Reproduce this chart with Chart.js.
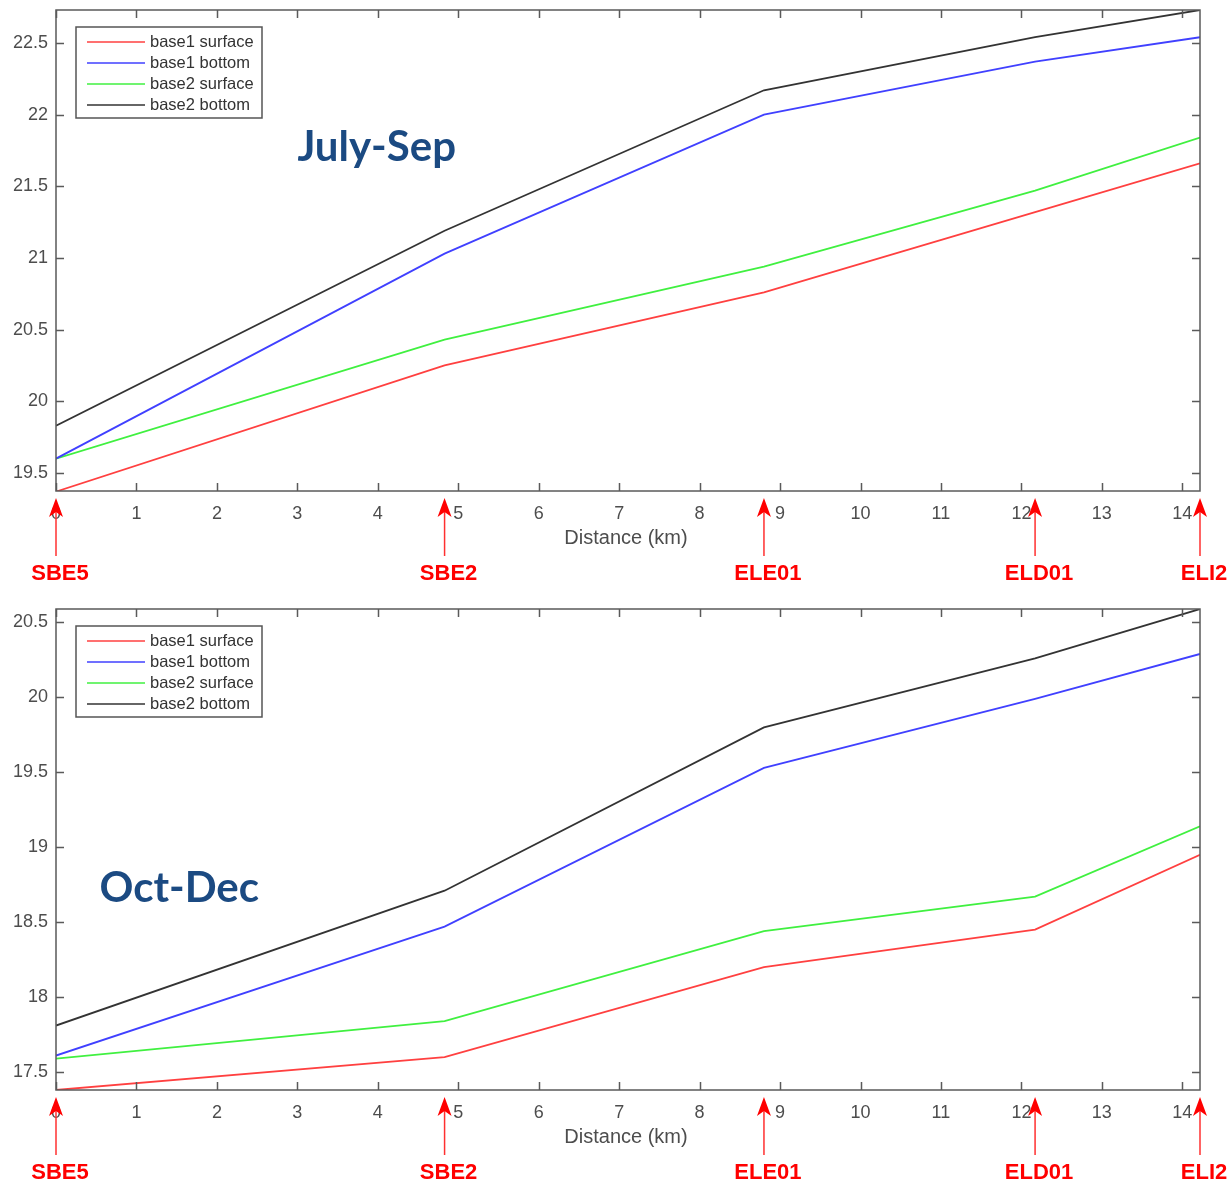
<!DOCTYPE html>
<html>
<head>
<meta charset="utf-8">
<script src="https://cdn.jsdelivr.net/npm/chart.js@4.4.1/dist/chart.umd.min.js"></script>
<style>
  html,body{margin:0;padding:0;background:#fff;}
  .wrap{position:relative;width:1228px;height:594px;}
  canvas{display:block;}
</style>
</head>
<body>
<div class="wrap"><canvas id="c1" width="1228" height="594"></canvas></div>
<div class="wrap"><canvas id="c2" width="1228" height="594"></canvas></div>
<script>
// ---- data ----
const seriesLabels = ['base1 surface','base1 bottom','base2 surface','base2 bottom'];
const stationNames = ['SBE5','SBE2','ELE01','ELD01','ELI2'];
const stationKm    = [0, 4.83, 8.8, 12.17, 14.22];
const xTickStep = 1;

// July-Sep
const julB1Surface = [19.37, 20.25, 20.76, 21.32, 21.66];
const julB1Bottom  = [19.60, 21.03, 22.00, 22.37, 22.54];
const julB2Surface = [19.60, 20.43, 20.94, 21.47, 21.84];
const julB2Bottom  = [19.83, 21.19, 22.17, 22.54, 22.73];
const julYRange = [19.374, 22.73];

// Oct-Dec
const octB1Surface = [17.38, 17.60, 18.20, 18.45, 18.95];
const octB1Bottom  = [17.61, 18.47, 19.53, 19.99, 20.29];
const octB2Surface = [17.59, 17.84, 18.44, 18.67, 19.14];
const octB2Bottom  = [17.81, 18.71, 19.80, 20.26, 20.59];
const octYRange = [17.38, 20.59];

const yTickStep = 0.5;
const colors = ['#ff4040','#4040ff','#40f040','#333333'];

function makeChart(id, title, titlePos, values, yRange, topPad){
  const canvas = document.getElementById(id);
  const TXT = '#4d4d4d';
  const FONT = '"Liberation Sans", Arial, sans-serif';
  const deco = {
    id:'deco',
    afterDraw(chart){
      const ctx = chart.ctx;
      const {left,right,top,bottom} = chart.chartArea;
      const x = chart.scales.x, y = chart.scales.y;
      ctx.save();
      // box
      ctx.strokeStyle='#5a5a5a'; ctx.lineWidth=1.5;
      ctx.strokeRect(left,top,right-left,bottom-top);
      // inward ticks on all four sides
      const tl=8;
      ctx.beginPath();
      x.ticks.forEach(t=>{
        const px=Math.round(x.getPixelForValue(t.value))+0.5;
        ctx.moveTo(px,bottom); ctx.lineTo(px,bottom-tl);
        ctx.moveTo(px,top); ctx.lineTo(px,top+tl);
      });
      y.ticks.forEach(t=>{
        const py=Math.round(y.getPixelForValue(t.value))+0.5;
        ctx.moveTo(left,py); ctx.lineTo(left+tl,py);
        ctx.moveTo(right,py); ctx.lineTo(right-tl,py);
      });
      ctx.stroke();

      // legend
      const lx=left+20, ly=top+17, lw=186, lh=91;
      ctx.fillStyle='#fff';
      ctx.fillRect(lx,ly,lw,lh);
      ctx.strokeStyle='#555'; ctx.lineWidth=1.5;
      ctx.strokeRect(lx,ly,lw,lh);
      ctx.font='16.5px '+FONT;
      ctx.textBaseline='middle'; ctx.textAlign='left';
      chart.data.datasets.forEach((ds,i)=>{
        const ry = ly+15+i*21;
        ctx.strokeStyle=ds.borderColor; ctx.lineWidth=1.5;
        ctx.beginPath(); ctx.moveTo(lx+11,ry); ctx.lineTo(lx+69,ry); ctx.stroke();
        ctx.fillStyle='#333';
        ctx.fillText(ds.label, lx+74, ry);
      });

      // x title
      ctx.fillStyle=TXT;
      ctx.font='20px '+FONT;
      ctx.textAlign='center'; ctx.textBaseline='middle';
      ctx.fillText('Distance (km)', (left+right)/2 - 2, bottom+47);

      // season title
      ctx.fillStyle='#1b4a82';
      ctx.font='bold 42px Lato, "Open Sans", sans-serif';
      ctx.textAlign='left'; ctx.textBaseline='alphabetic';
      ctx.fillText(title, left+titlePos[0]*(right-left), top+titlePos[1]*(bottom-top));

      // station arrows
      stationNames.forEach((name,i)=>{
        const px = x.getPixelForValue(stationKm[i]);
        const tip = bottom+7;
        ctx.strokeStyle='#ff3030'; ctx.lineWidth=1.5;
        ctx.beginPath(); ctx.moveTo(px,tip+10); ctx.lineTo(px,bottom+65); ctx.stroke();
        ctx.fillStyle='#ff0000';
        ctx.beginPath();
        ctx.moveTo(px,tip);
        ctx.lineTo(px+7,tip+19);
        ctx.lineTo(px,tip+14);
        ctx.lineTo(px-7,tip+19);
        ctx.closePath(); ctx.fill();
        ctx.font='bold 22px '+FONT;
        ctx.textAlign='center'; ctx.textBaseline='middle';
        ctx.fillText(name, px+4, bottom+83);
      });
      ctx.restore();
    }
  };

  const datasets = values.map((arr,i)=>({
    label: seriesLabels[i],
    data: arr.map((v,j)=>({x:stationKm[j], y:v})),
    borderColor: colors[i],
    backgroundColor: colors[i],
    borderWidth: 1.8,
    pointRadius: 0,
    tension: 0,
    fill:false
  }));

  const totalH = 594, areaH = 481;
  return new Chart(canvas, {
    type:'line',
    data:{datasets},
    options:{
      responsive:false,
      animation:false,
      events:[],
      layout:{padding:{top:topPad, right:28, left:0, bottom:0}},
      plugins:{legend:{display:false}, tooltip:{enabled:false}, title:{display:false}},
      scales:{
        x:{
          type:'linear', min:0, max:stationKm[stationKm.length-1],
          border:{display:false},
          grid:{display:false, drawTicks:false},
          ticks:{stepSize:xTickStep, includeBounds:false, padding:12, color:TXT,
                 font:{size:18, family:FONT}, maxRotation:0, autoSkip:false},
          afterFit(s){ s.height = totalH - topPad - areaH; s.paddingLeft=0; s.paddingRight=0; }
        },
        y:{
          min:yRange[0], max:yRange[1],
          border:{display:false},
          grid:{display:false, drawTicks:false},
          ticks:{stepSize:yTickStep, includeBounds:false, padding:8, color:TXT,
                 font:{size:18, family:FONT},
                 callback:(v)=>String(Number(Number(v).toFixed(2)))},
          afterFit(s){ s.width = 56; s.paddingTop=0; s.paddingBottom=0; }
        }
      }
    },
    plugins:[deco]
  });
}

makeChart('c1','July-Sep',[0.211,0.314],[julB1Surface,julB1Bottom,julB2Surface,julB2Bottom],julYRange,10);
makeChart('c2','Oct-Dec',[0.038,0.609],[octB1Surface,octB1Bottom,octB2Surface,octB2Bottom],octYRange,15);
</script>
</body>
</html>
